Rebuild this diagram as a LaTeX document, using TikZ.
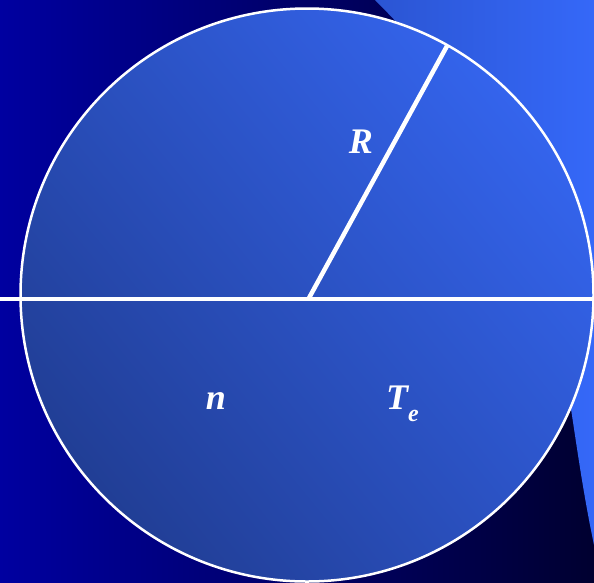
\documentclass[tikz,border=0pt]{standalone}
\usepackage{fontspec}
\usetikzlibrary{shadings}
\setmainfont{Liberation Serif}
\definecolor{bgleft}{HTML}{0000A0}
\definecolor{bgright}{HTML}{000030}
\definecolor{swleft}{HTML}{2B55D3}
\definecolor{swright}{HTML}{3568F8}
\definecolor{cirlight}{HTML}{386CFF}
\definecolor{cirdark}{HTML}{1D3683}
\tikzset{
  lbl/.style={text=white, inner sep=0pt, font=\fontsize{36}{36}\selectfont\bfseries\itshape},
  wline/.style={draw=white}
}
\begin{document}
\begin{tikzpicture}[x=1pt,y=-1pt]
\useasboundingbox (0,0) rectangle (594,582);
% background
\shade[left color=bgleft, right color=bgright] (0,0) rectangle (594,582);
% swoosh
\shade[left color=swleft, right color=swright] (375,0) .. controls (575,200) and (552,345) .. (594,545) -- (594,0) -- cycle;
% circle
\coordinate (c) at (307,295);
\shade[upper right=cirlight, lower left=cirdark, upper left=cirdark!55!cirlight, lower right=cirdark!45!cirlight] (c) circle (286.5);
\draw[wline, line width=2.5pt] (c) circle (286.5);
% lines
\coordinate (hl) at (0,299);
\coordinate (hr) at (594,299);
\coordinate (rs) at (309,298);
\coordinate (re) at (447,46);
\draw[wline, line width=4pt] (hl) -- (hr);
\draw[wline, line width=4.5pt] (rs) -- (re);
% labels
\node[lbl, anchor=base] (R) at (361,153) {R};
\node[lbl, anchor=base] (n) at (216,409) {n};
\node[lbl, anchor=base west] (T) at (386,409) {T\raisebox{-12pt}{\fontsize{24}{24}\selectfont e}};
\end{tikzpicture}
\end{document}
